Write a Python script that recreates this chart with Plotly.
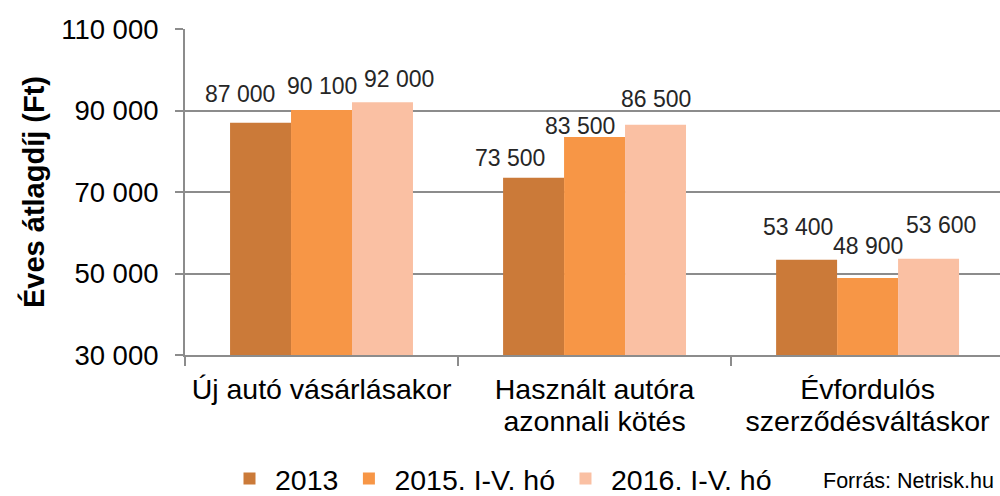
import plotly.graph_objects as go

categories = ["Új autó vásárlásakor", "Használt autóra\nazonnali kötés", "Évfordulós\nszerződésváltáskor"]
series_names = ["2013", "2015. I-V. hó", "2016. I-V. hó"]
values_2013 = [87000, 73500, 53400]
values_2015 = [90100, 83500, 48900]
values_2016 = [92000, 86500, 53600]
colors = ["#CB7A39", "#F79646", "#FAC0A3"]
y_ticks = [30000, 50000, 70000, 90000, 110000]

# label nudges in pixels (as placed in the original chart), per series
label_dx = [[-21, -24, -9], [0, -15, 0], [17, 0, 12]]
label_dy = [[14, 5, 18], [9, -4, 17], [8, 11, 19]]

FONT = "Liberation Sans, Arial, sans-serif"
x_idx = list(range(len(categories)))
x_lo, x_hi = -0.5, 2.485
BARGAP = 0.33
all_series = [values_2013, values_2015, values_2016]

line1 = [c.split("\n")[0] for c in categories]
line2 = [c.split("\n")[1] if "\n" in c else "" for c in categories]

fig = go.Figure()
for name, vals, col in zip(series_names, all_series, colors):
    fig.add_trace(go.Bar(
        x=x_idx, y=vals, name=name, marker=dict(color=col, line=dict(width=0)),
    ))
# carrier trace so that the second-line category axis is drawn
fig.add_trace(go.Scatter(x=x_idx, y=[None] * len(x_idx), xaxis="x2", yaxis="y",
                         mode="markers", showlegend=False, hoverinfo="skip"))

n = len(all_series)
bw = (1 - BARGAP) / n
annotations = []
for j, vals in enumerate(all_series):
    for i, v in zip(x_idx, vals):
        xc = i - (1 - BARGAP) / 2 + bw * (j + 0.5)
        annotations.append(dict(
            x=xc, y=v, xref="x", yref="y", text=f"{v:,}".replace(",", " "),
            showarrow=False, yanchor="bottom", xanchor="center",
            xshift=label_dx[j][i], yshift=label_dy[j][i],
            font=dict(family=FONT, size=23, color="#262626"),
        ))

annotations.append(dict(text="Forrás: Netrisk.hu", xref="paper", yref="paper",
                        x=(821 - 185) / 815, y=(355 - 481) / 326, xanchor="left", yanchor="middle",
                        showarrow=False, font=dict(family=FONT, size=21.5, color="#000000")))

fig.update_layout(
    width=1000, height=496,
    margin=dict(l=185, r=0, t=29, b=141, autoexpand=False),
    plot_bgcolor="white", paper_bgcolor="white",
    separators=", ",
    barmode="group", bargap=BARGAP, bargroupgap=0,
    font=dict(family=FONT, color="#000000"),
    showlegend=True,
    legend=dict(orientation="h", xref="container", yref="container",
                x=0.224, xanchor="left", y=1 - 479 / 496, yanchor="middle",
                font=dict(family=FONT, size=28.5, color="#000000"), traceorder="normal",
                itemwidth=41, bgcolor="rgba(0,0,0,0)"),
    annotations=annotations,
    xaxis=dict(
        range=[x_lo, x_hi], tickmode="array", tickvals=x_idx, ticktext=line1,
        ticks="", showgrid=False, zeroline=False, automargin=False,
        showline=True, linecolor="#8C8C8C", linewidth=2,
        tickfont=dict(family=FONT, size=28.5, color="#000000"),
        ticklabelstandoff=8,
        minor=dict(tickmode="array", tickvals=[-0.5, 0.5, 1.5, 2.5], ticks="outside",
                   ticklen=9, tickwidth=2, tickcolor="#8C8C8C", showgrid=False),
    ),
    xaxis2=dict(overlaying="x", anchor="y", side="bottom", range=[x_lo, x_hi],
                tickmode="array", tickvals=x_idx, ticktext=line2, ticks="",
                showgrid=False, zeroline=False, showline=False, automargin=False,
                tickfont=dict(family=FONT, size=28.5, color="#000000"),
                ticklabelstandoff=46),
)

fig.update_yaxes(
    range=[30000, 110000], tickmode="array", tickvals=y_ticks, tickformat=",d",
    ticks="outside", ticklen=8, tickwidth=2, tickcolor="#8C8C8C",
    showgrid=True, gridcolor="#8C8C8C", gridwidth=2, zeroline=False,
    showline=True, linecolor="#8C8C8C", linewidth=2, automargin=False,
    tickfont=dict(family=FONT, size=27.5, color="#000000"),
    ticklabelstandoff=11,
    title=dict(text="<b>Éves átlagdíj (Ft)</b>", font=dict(family=FONT, size=29, color="#000000"), standoff=8),
)

fig.write_html("out.html", config={"displayModeBar": False},
               post_script="document.body.style.margin='0';")
